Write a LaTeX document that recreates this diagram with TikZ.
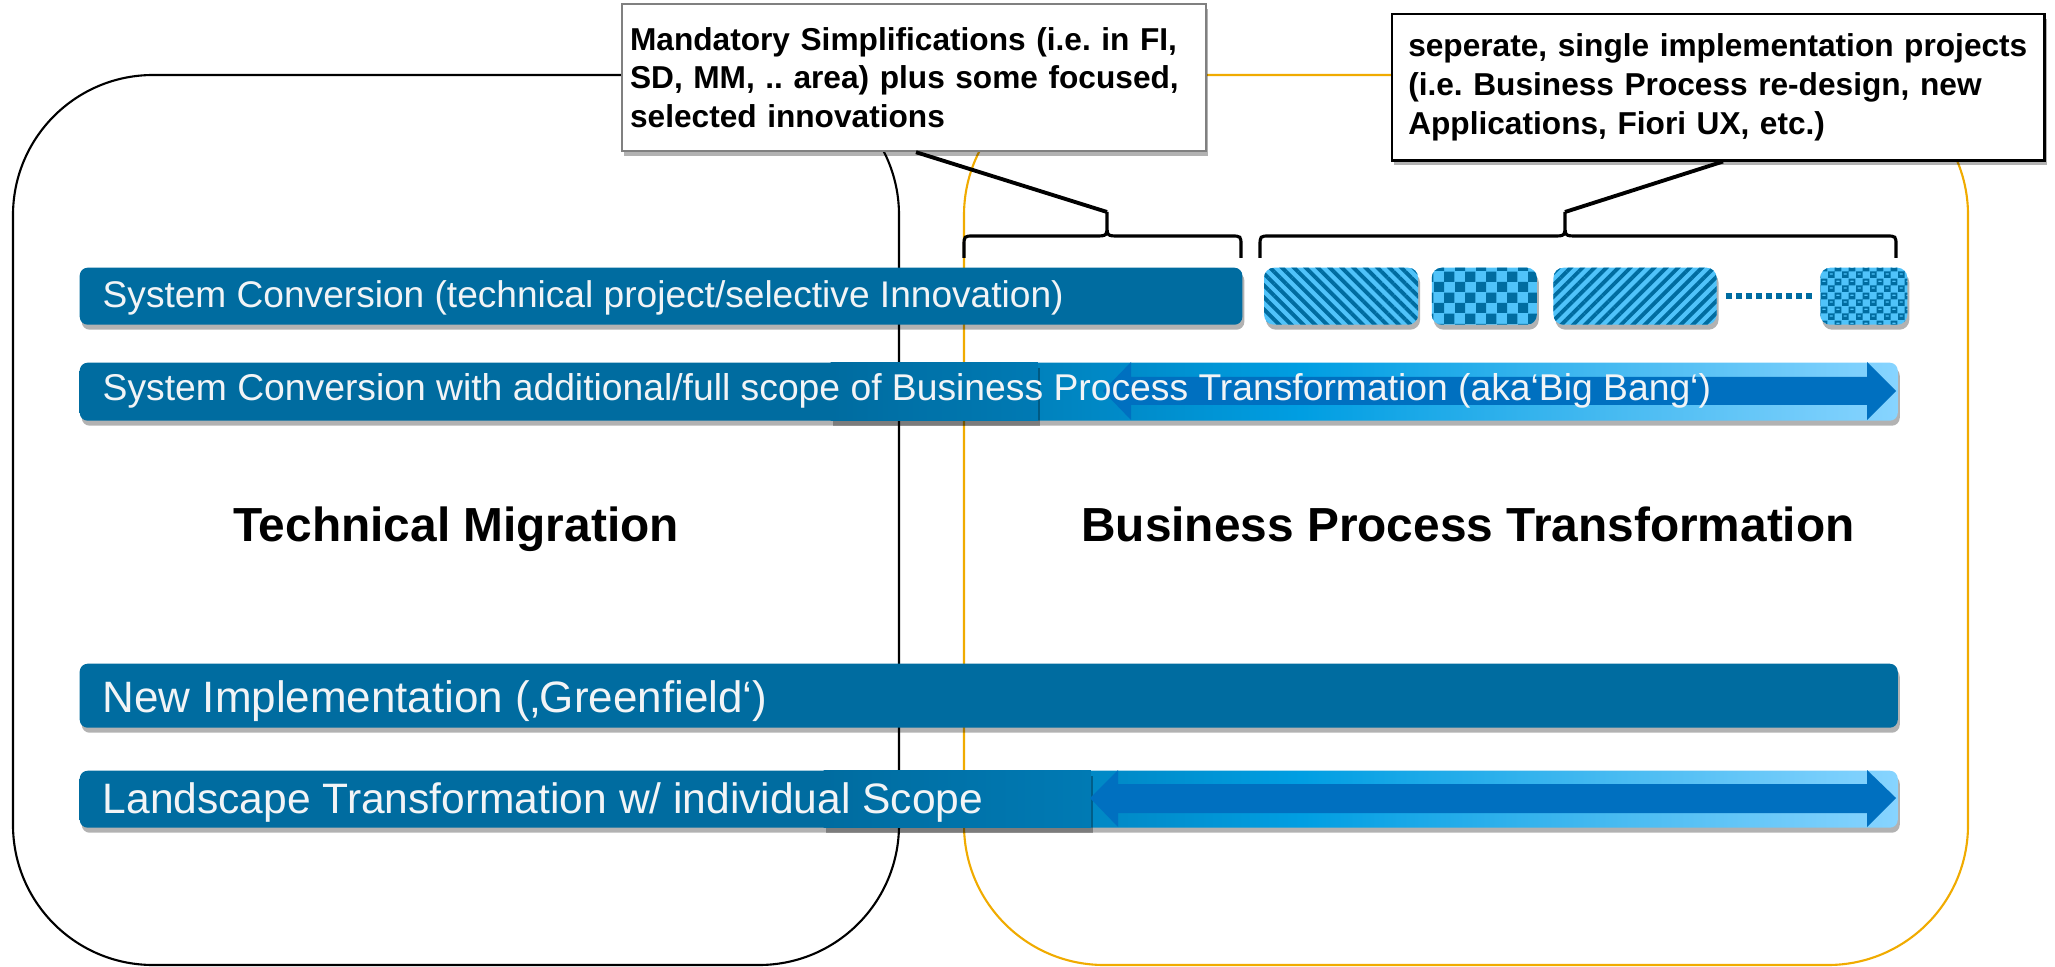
\documentclass[tikz,border=0pt]{standalone}
\usepackage{fontspec}
\setmainfont{Liberation Sans}
\usetikzlibrary{positioning,shadows,calc,patterns,patterns.meta}
\definecolor{bardark}{RGB}{0,108,160}
\definecolor{barmid}{RGB}{0,158,226}
\definecolor{barlight}{RGB}{135,212,255}
\definecolor{overmid}{RGB}{0,122,180}
\definecolor{arrowblue}{RGB}{0,112,192}
\definecolor{patlight}{RGB}{80,195,250}
\definecolor{sapgold}{RGB}{240,171,0}
\definecolor{barwhite}{RGB}{242,244,246}

\pgfdeclarehorizontalshading{scopeshade}{100bp}{color(0bp)=(bardark); color(45.7bp)=(bardark); color(58.6bp)=(barmid); color(75bp)=(barlight); color(100bp)=(barlight)}
\pgfdeclarepatternformonly{bigchecker}{\pgfpointorigin}{\pgfqpoint{6pt}{6pt}}{\pgfqpoint{6pt}{6pt}}{%
  \pgfpathrectangle{\pgfpointorigin}{\pgfqpoint{3pt}{3pt}}%
  \pgfpathrectangle{\pgfqpoint{3pt}{3pt}}{\pgfqpoint{3pt}{3pt}}%
  \pgfusepath{fill}}
\pgfdeclarepatternformonly{knit}{\pgfpointorigin}{\pgfqpoint{4pt}{4pt}}{\pgfqpoint{4pt}{4pt}}{%
  \pgfpathrectangle{\pgfpointorigin}{\pgfqpoint{2pt}{1pt}}%
  \pgfpathrectangle{\pgfqpoint{0pt}{1.4pt}}{\pgfqpoint{2pt}{0.6pt}}%
  \pgfpathrectangle{\pgfqpoint{0pt}{1pt}}{\pgfqpoint{0.5pt}{0.4pt}}%
  \pgfpathrectangle{\pgfqpoint{1.5pt}{1pt}}{\pgfqpoint{0.5pt}{0.4pt}}%
  \pgfpathrectangle{\pgfqpoint{2pt}{2pt}}{\pgfqpoint{2pt}{1pt}}%
  \pgfpathrectangle{\pgfqpoint{2pt}{3.4pt}}{\pgfqpoint{2pt}{0.6pt}}%
  \pgfpathrectangle{\pgfqpoint{2pt}{3pt}}{\pgfqpoint{0.5pt}{0.4pt}}%
  \pgfpathrectangle{\pgfqpoint{3.5pt}{3pt}}{\pgfqpoint{0.5pt}{0.4pt}}%
  \pgfusepath{fill}}

\begin{document}
\frenchspacing
\begin{tikzpicture}[x=0.01cm, y=-0.01cm,
	lift/.style={drop shadow={shadow xshift=0.02cm, shadow yshift=-0.05cm, opacity=0.3, fill=black}},
	bigbox/.style={rounded corners=1.4cm, line width=0.6pt},
	bar/.style={lift, rounded corners=0.08cm, inner sep=0, anchor=north west},
	bartext/.style={text=barwhite, inner sep=0, anchor=base west},
	patbox/.style={lift, preaction={fill=patlight}, pattern color=bardark, rounded corners=0.1cm, inner sep=0, minimum height=0.57cm},
	callout/.style={lift, fill=white, anchor=north west, align=left, font=\bfseries\fontsize{9}{11}\selectfont},
	heading/.style={font=\bfseries\fontsize{13.6}{16}\selectfont, anchor=base},
	bracket/.style={line width=0.9pt},
	pointer/.style={line width=1.1pt}]
				\useasboundingbox (0,0) rectangle (2055,967);
				
				% Bereiche
				\draw[bigbox] (13,75) rectangle (899,965);
				\draw[bigbox, sapgold] (964,75) rectangle (1968,965);
				\node[heading] (techmig) at (456,541) {Technical Migration};
				\node[heading] (bpt) at (1468,541) {Business Process Transformation};
				
				% System Conversion
				\node[bar, fill=bardark, minimum width=11.62cm, minimum height=0.57cm] (sysconv) at (79,267) {};
				\node[bartext, font=\fontsize{10.55}{12}\selectfont] (sysconvtext) at ($(sysconv.north west)+(23,41)$) {System Conversion (technical project/selective Innovation)};
				\node[patbox, minimum width=1.54cm, right=0.19cm of sysconv, pattern={Lines[angle=-45,distance=2.4pt,line width=1.1pt]}] (innoA) {};
				\node[patbox, minimum width=1.05cm, right=0.11cm of innoA, pattern=bigchecker] (innoB) {};
				\node[patbox, minimum width=1.63cm, right=0.14cm of innoB, pattern={Lines[angle=45,distance=2.4pt,line width=1.1pt]}] (innoC) {};
				\node[patbox, minimum width=0.87cm, right=1.01cm of innoC, pattern=knit] (innoD) {};
				\draw[bardark, line width=0.065cm, dash pattern=on 0.06cm off 0.04cm, shorten <=0.07cm, shorten >=0.08cm] (innoC) -- (innoD);
				
				% Big Bang
				\node[bar, shade, shading=scopeshade, minimum width=18.17cm, minimum height=0.58cm] (bigbang) at (79,362) {};
				\node[lift, left color=bardark, right color=overmid, minimum width=2.07cm, minimum height=0.58cm, inner sep=0, anchor=north west] (bigbangover) at (830,362) {};
				\fill[arrowblue] (1103,391) -- (1131,362) -- (1131,377) -- (1867,377) -- (1867,362) -- (1896,391) -- (1867,420) -- (1867,405) -- (1131,405) -- (1131,420) -- cycle;
				\node[bartext, font=\fontsize{10.6}{12}\selectfont] (bigbangtext) at ($(bigbang.north west)+(23,38)$) {System Conversion with additional/full scope of Business Process Transformation (aka‘Big Bang‘)};
				
				% Greenfield
				\node[bar, fill=bardark, minimum width=18.17cm, minimum height=0.64cm] (greenfield) at (79,663) {};
				\node[bartext, font=\fontsize{12.5}{14}\selectfont] (greenfieldtext) at ($(greenfield.north west)+(23,49)$) {New Implementation (‚Greenfield‘)};
				
				% Landscape
				\node[bar, shade, shading=scopeshade, minimum width=18.17cm, minimum height=0.57cm] (landscape) at (79,770) {};
				\node[lift, left color=bardark, right color=overmid, minimum width=2.67cm, minimum height=0.57cm, inner sep=0, anchor=north west] (landscapeover) at (823,770) {};
				\fill[arrowblue] (1090,798) -- (1118,770) -- (1118,784) -- (1867,784) -- (1867,770) -- (1896,798) -- (1867,827) -- (1867,813) -- (1118,813) -- (1118,827) -- cycle;
				\node[bartext, font=\fontsize{12.1}{14}\selectfont] (landscapetext) at ($(landscape.north west)+(23,43)$) {Landscape Transformation w/ individual Scope};
				
				% Callouts
				\node[callout, draw=gray, line width=0.6pt, minimum width=5.84cm, minimum height=1.47cm, inner xsep=0.08cm, text width=5.68cm] (simpl) at (621,3) {Mandatory Simplifications (i.e. in FI,\\SD, MM, .. area) plus some focused,\\selected innovations};
				\node[callout, draw=black, line width=0.7pt, minimum width=6.52cm, minimum height=1.46cm, inner xsep=0.16cm, text width=6.2cm] (separate) at (1391,13) {seperate, single implementation projects\\(i.e. Business Process re-design, new\\Applications, Fiori UX, etc.)};
				
				% Klammern
				\coordinate (tipA) at (1107,212);
				\coordinate (tipB) at (1565,212);
				\draw[bracket] (964,258) -- (964,246) .. controls (964,236) .. (974,236) -- (1095,236) .. controls (1107,236) .. (1107,224) -- (tipA) -- (1107,224) .. controls (1107,236) .. (1119,236) -- (1231,236) .. controls (1241,236) .. (1241,246) -- (1241,258);
				\draw[bracket] (1260,258) -- (1260,246) .. controls (1260,236) .. (1270,236) -- (1553,236) .. controls (1565,236) .. (1565,224) -- (tipB) -- (1565,224) .. controls (1565,236) .. (1577,236) -- (1886,236) .. controls (1896,236) .. (1896,246) -- (1896,258);
				\draw[pointer] ($(simpl.south west)+(295,0)$) -- (tipA);
				\draw[pointer] ($(separate.south west)+(332,0)$) -- (tipB);
			\end{tikzpicture}
\end{document}
